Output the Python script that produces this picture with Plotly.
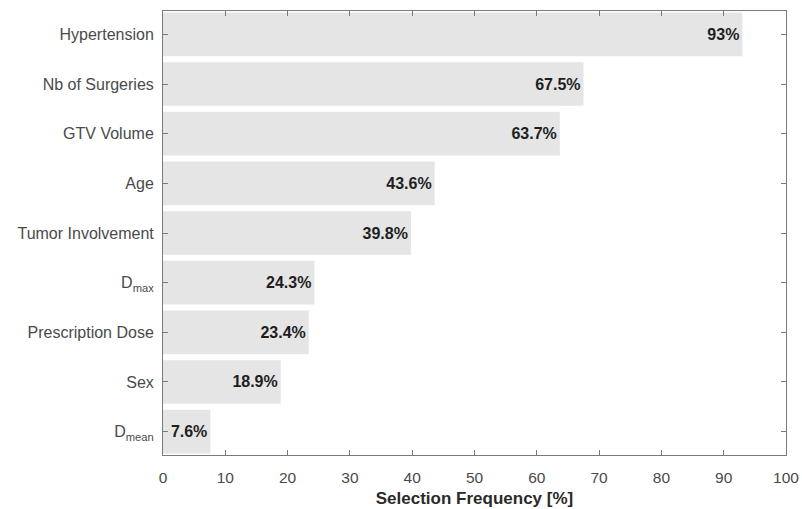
import plotly.graph_objects as go

categories = ["Hypertension", "Nb of Surgeries", "GTV Volume", "Age",
              "Tumor Involvement", "D<sub>max</sub>", "Prescription Dose",
              "Sex", "D<sub>mean</sub>"]
values = [93, 67.5, 63.7, 43.6, 39.8, 24.3, 23.4, 18.9, 7.6]
labels = ["93%", "67.5%", "63.7%", "43.6%", "39.8%", "24.3%", "23.4%", "18.9%", "7.6%"]
x_ticks = [0, 10, 20, 30, 40, 50, 60, 70, 80, 90, 100]

FONT = "Liberation Sans, Arial, sans-serif"
AXIS_COLOR = "#7a7a7a"
TEXT_COLOR = "#4a4a4a"

fig = go.Figure(go.Bar(
    x=values, y=categories, orientation="h",
    width=0.88,
    marker=dict(color="#e5e5e5", line=dict(width=0)),
    text=labels, textposition="inside", insidetextanchor="end",
    textfont=dict(family=FONT, size=16, color="#1e1e1e", weight="bold"),
    constraintext="none",
    cliponaxis=True,
))

fig.update_layout(
    width=802, height=509,
    margin=dict(l=163, r=16, t=11, b=54, autoexpand=False),
    paper_bgcolor="white", plot_bgcolor="white",
    font=dict(family=FONT, size=15.5, color=TEXT_COLOR),
    showlegend=False,
    xaxis=dict(
        range=[0, 100], tickvals=x_ticks, automargin=False,
        ticks="inside", ticklen=5, tickcolor=AXIS_COLOR,
        showline=True, linecolor=AXIS_COLOR, linewidth=1, mirror="ticks",
        showgrid=False, zeroline=False, ticklabelstandoff=8,
        tickfont=dict(family=FONT, size=15.5, color=TEXT_COLOR),
        title=dict(text="<b>Selection Frequency [%]</b>",
                   font=dict(family=FONT, size=17, color="#2a2a2a"), standoff=7),
    ),
    yaxis=dict(
        categoryorder="array", categoryarray=categories,
        range=[8.47, -0.47], automargin=False,
        ticks="inside", ticklen=5, tickcolor=AXIS_COLOR,
        showline=True, linecolor=AXIS_COLOR, linewidth=1, mirror="ticks",
        showgrid=False, zeroline=False, ticklabelstandoff=5,
        tickfont=dict(family=FONT, size=16, color=TEXT_COLOR),
    ),
)

fig.write_html(
    "out.html",
    config={"displayModeBar": False},
    post_script="document.body.style.margin='0';document.body.style.overflow='hidden';",
)
